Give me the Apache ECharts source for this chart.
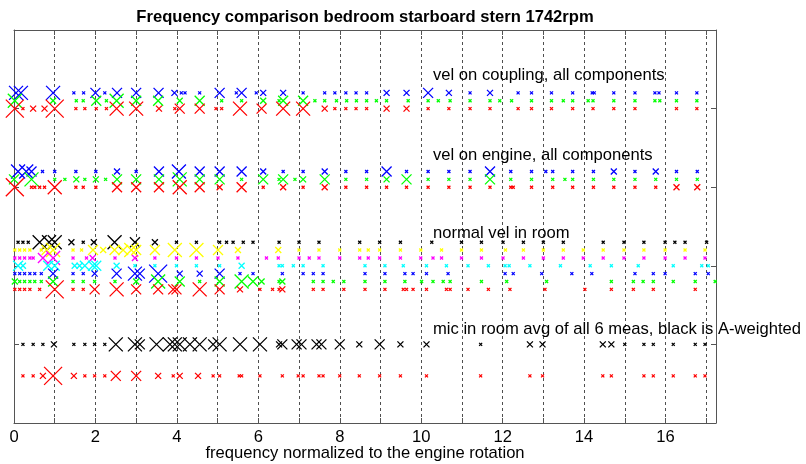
<!DOCTYPE html>
<html>
<head>
<meta charset="utf-8">
<script src="https://cdn.jsdelivr.net/npm/echarts@6/dist/echarts.min.js"></script>
<style>
html,body{margin:0;padding:0;background:#fff;}
#chart{width:806px;height:464px;}
</style>
</head>
<body>
<div id="chart"></div>
<script>
// ---- data: [frequency / engine order, amplitude class 1..5] ----
const titleText = 'Frequency comparison bedroom starboard stern 1742rpm';
const xAxisTitle = 'frequency normalized to the engine rotation';
const xTicks = [0, 2, 4, 6, 8, 10, 12, 14, 16];
const groupLabels = ['vel on coupling, all components', 'vel on engine, all components', 'normal vel in room', 'mic in room avg of all 6 meas, black is A-weighted'];
const groupLabelPos = [[10.29, 4.42], [10.29, 3.40], [10.29, 2.41], [10.29, 1.19]];

const couplingBlue = [[0.05,4],[0.17,4],[0.96,4],[1.47,1],[1.71,1],[2.0,3],[2.23,1],[2.53,3],[3.0,3],[3.55,3],[3.94,2],[4.11,1],[4.2,1],[4.56,1],[5.05,3],[5.46,1],[5.59,3],[5.95,1],[6.12,2],
  [6.61,2],[7.10,1],[7.63,1],[7.88,1],[8.15,1],[8.40,1],[8.66,1],[9.15,2],[9.64,2],[10.17,3],[10.68,2],[11.2,1],[11.69,2],[12.38,1],[12.71,1],
  [13.2,1],[13.72,1],[14.2,1],[14.25,1],[14.73,1],[15.25,1],[15.74,1],[15.84,1],[16.27,1],[16.77,1]];
const couplingGreen = [[0.02,4],[0.96,2],[1.53,1],[1.70,1],[2.02,3],[2.27,1],[2.52,4],[3.0,3],[3.54,3],[4.07,2],[4.56,3],[5.1,1],[5.59,1],[6.12,2],[6.51,1],
  [6.61,3],[7.10,3],[7.39,1],[7.63,1],[7.92,1],[8.17,1],[8.41,1],[8.66,1],[8.9,1],[9.15,1],[9.68,1],[10.17,1],[10.42,1],[10.71,1],[11.2,1],[11.69,1],[11.93,1],[12.22,1],[12.71,1],
  [13.2,1],[13.49,1],[13.72,1],[14.1,1],[14.22,1],[14.73,1],[15.25,1],[15.74,1],[15.86,1],[16.27,1],[16.77,1]];
const couplingRed = [[0.02,5],[0.22,1],[0.47,2],[0.75,2],[1.0,5],[1.52,1],[1.74,1],[2.02,1],[2.27,1],[2.52,4],[3.0,4],[3.56,2],[3.95,1],[4.07,3],[4.56,3],[4.96,1],[5.1,1],[5.55,4],[6.08,3],
  [6.61,4],[7.10,4],[7.63,2],[7.88,1],[8.15,1],[8.40,1],[8.66,1],[9.15,2],[9.64,2],[10.17,1],[10.68,1],[11.2,1],[11.69,1],[12.38,1],[12.71,1],
  [13.2,1],[13.72,1],[14.22,1],[14.73,1],[15.25,1],[16.27,1],[16.77,1]];

const engineBlue = [[0.10,4],[0.30,4],[0.43,3],[0.70,1],[1.0,1],[1.52,1],[2.01,1],[2.53,2],[3.0,1],[3.56,3],[4.05,4],[4.56,3],[5.05,3],[5.59,3],[6.12,2],
  [6.61,1],[7.10,1],[7.63,2],[8.15,1],[8.66,1],[9.15,3],[9.64,1],[10.17,1],[10.68,1],[11.2,1],[11.69,3],[12.2,1],[12.71,1],[13.06,1],[13.23,1],[13.72,1],[14.23,1],[14.73,2],[15.25,1],[15.76,2],[16.27,1],[16.78,1]];
const engineGreen = [[0.0,3],[0.43,4],[1.0,1],[1.25,1],[1.53,2],[1.74,1],[2.01,2],[2.25,1],[2.53,3],[3.0,3],[3.56,3],[4.07,4],[4.56,3],[5.05,3],[5.59,1],[6.12,3],[6.51,1],
  [6.61,3],[6.90,1],[7.10,2],[7.63,3],[8.15,1],[8.66,1],[9.15,2],[9.64,3],[10.17,1],[10.68,1],[11.2,1],[11.69,3],[12.2,1],[12.71,1],[13.23,1],[13.53,1],[13.72,1],[14.23,1],[14.73,1],[15.25,1],[15.76,1],[16.27,1],[16.78,1]];
const engineRed = [[0.02,5],[0.43,1],[0.51,1],[0.63,1],[0.75,1],[1.0,4],[1.52,1],[1.70,1],[2.01,1],[2.53,3],[3.0,3],[3.56,3],[4.07,4],[4.56,3],[5.05,2],[5.59,3],[6.12,1],
  [6.61,2],[7.10,1],[7.63,2],[8.15,1],[8.66,1],[9.15,1],[9.64,1],[10.17,1],[10.68,1],[11.2,1],[11.69,1],[12.2,1],[12.26,1],[12.71,1],[13.23,1],[13.72,1],[14.23,1],[14.73,1],[15.25,1],[15.76,1],[16.27,2],[16.78,2]];

const roomBlack = [[0.1,1],[0.22,1],[0.35,1],[0.63,4],[0.86,4],[1.0,4],[1.41,2],[1.70,1],[1.96,2],[2.47,4],[2.97,3],[3.46,2],[3.99,1],[4.48,1],[5.05,1],[5.22,1],[5.38,1],[5.63,1],[5.87,1],[6.51,1],
  [7.0,1],[7.49,1],[8.49,1],[8.98,1],[9.49,1],[10.26,1],[10.99,1],[11.48,1],[12.01,1],[12.51,1],[13.0,1],[13.49,1],[14.47,1],[14.98,1],[15.47,1],[15.99,1],[16.23,1],[16.48,1],[17.01,1]];
const roomYellow = [[0.02,1],[0.14,1],[0.26,1],[0.39,1],[0.67,1],[0.8,3],[0.96,4],[1.45,1],[1.66,1],[1.94,3],[2.19,2],[2.47,3],[2.68,3],[2.88,4],[3.0,3],[3.46,3],[3.95,4],[4.48,4],[5.01,3],[5.5,2],
  [6.49,2],[7.0,1],[7.49,1],[8.0,1],[8.49,1],[8.70,1],[8.98,1],[9.49,1],[9.99,1],[10.50,1],[10.99,1],[11.48,1],[12.07,1],[12.51,1],[13.0,1],[13.49,1],[13.98,1],[14.47,1],[14.98,1],[15.47,1],[15.99,1],[16.48,1],[16.97,1]];
const roomMagenta = [[0.02,1],[0.14,1],[0.26,1],[0.39,1],[0.47,1],[0.71,3],[0.96,4],[1.45,1],[1.78,1],[1.93,2],[2.48,1],[2.97,2],[3.46,1],[3.99,1],[4.48,1],[5.01,1],[5.50,1],[6.20,1],
  [6.49,1],[7.0,1],[7.25,1],[7.49,1],[8.0,1],[8.49,1],[8.70,1],[8.98,1],[9.49,1],[9.99,1],[10.29,1],[10.50,1],[10.99,1],[11.48,1],[12.01,1],[12.51,1],[13.0,1],[13.49,1],[13.98,1],[14.47,1],[14.98,1],[15.47,1],[15.99,1],[16.48,1],[16.97,1]];
const roomCyan = [[0.10,3],[0.22,2],[0.84,3],[1.0,3],[1.49,2],[1.61,2],[1.74,3],[1.94,3],[2.02,3],[2.52,2],[2.97,1],[3.46,1],[3.99,1],[4.48,1],[5.05,1],[5.59,2],[6.51,1],
  [6.59,1],[6.86,1],[7.10,1],[7.59,1],[8.62,1],[9.11,1],[9.56,1],[10.13,1],[10.62,1],[11.15,1],[11.65,1],[12.06,1],[12.16,1],[12.67,1],[13.42,1],[14.15,1],[14.67,1],[15.33,1],[16.19,1],[16.89,1],[17.05,1]];
const roomBlue = [[0.02,1],[0.14,1],[0.26,1],[0.39,1],[0.51,1],[0.67,1],[0.96,3],[1.45,1],[1.70,1],[1.98,2],[2.52,3],[2.97,4],[3.09,3],[3.54,5],[4.07,2],[4.56,2],[5.05,3],[5.55,1],[5.87,1],
  [6.59,1],[7.10,1],[7.35,1],[7.59,1],[8.62,1],[9.11,1],[9.60,1],[9.80,1],[10.13,1],[10.66,1],[12.06,1],[12.26,1],[12.96,1],[13.70,1],[14.19,1],[15.25,1],[15.70,1],[15.99,1],[16.73,1],[17.05,1]];
const roomGreen = [[0.02,2],[0.14,1],[0.26,1],[0.39,1],[0.51,1],[0.67,1],[0.96,3],[1.45,1],[1.70,1],[1.98,1],[2.48,1],[3.0,2],[3.54,4],[4.07,3],[4.56,1],[5.05,3],[5.59,4],[5.87,3],[6.08,2],[6.51,1],
  [6.59,2],[7.35,1],[7.59,1],[7.84,1],[8.10,1],[8.62,1],[9.11,1],[9.60,1],[10.01,1],[10.29,1],[10.54,1],[10.71,1],[11.48,1],[12.10,1],[13.08,1],[14.67,1],[15.21,1],[15.45,1],[15.70,1],[16.19,1],[16.73,1],[17.22,1]];
const roomRed = [[0.02,1],[0.14,1],[0.26,1],[0.39,1],[0.63,1],[1.0,5],[1.45,1],[1.70,1],[1.98,3],[2.52,4],[3.0,3],[3.54,3],[3.91,3],[3.99,3],[4.56,4],[5.05,3],[5.55,2],[6.04,1],[6.51,1],
  [6.35,1],[6.59,2],[7.35,1],[7.59,1],[8.10,1],[8.62,1],[9.11,1],[9.56,1],[9.64,1],[9.80,1],[10.13,1],[10.62,1],[10.71,1],[11.15,1],[11.65,1],[12.18,1],[13.04,1],[14.02,1],[14.67,1],[15.21,1],[15.70,1],[16.73,1]];

const micBlack = [[0.22,1],[0.47,1],[0.71,1],[0.98,2],[1.47,1],[1.74,1],[1.98,1],[2.23,1],[2.50,4],[2.97,4],[3.09,3],[3.5,4],[3.83,4],[3.95,4],[4.07,4],[4.32,4],[4.56,4],[4.89,3],[5.05,4],[5.55,4],[6.04,4],[6.51,2],
  [6.59,3],[6.94,3],[7.06,3],[7.43,3],[7.55,3],[8.0,3],[8.48,2],[8.98,3],[9.49,2],[10.13,2],[11.46,1],[12.67,2],[12.98,2],[14.46,2],[14.67,2],[15.0,1],[15.47,1],[15.70,1],[16.19,1],[16.73,1],[16.97,1]];
const micRed = [[0.22,1],[0.47,1],[0.71,2],[0.96,5],[1.47,2],[1.74,1],[1.98,1],[2.23,1],[2.50,3],[3.0,3],[3.54,2],[3.91,1],[4.07,2],[4.52,2],[4.89,1],[5.05,1],[5.53,1],[5.59,1],[6.04,1],
  [6.59,1],[6.98,1],[7.10,1],[7.49,1],[7.59,1],[8.0,1],[8.48,1],[8.98,1],[9.49,1],[10.13,1],[11.46,1],[12.67,1],[12.98,1],[14.46,1],[14.67,1],[15.47,1],[15.70,1],[16.19,1],[16.73,1],[16.97,1]];

// row level (y value) of each series
const rowLevels = {
  couplingBlue: 4.2, couplingGreen: 4.1, couplingRed: 4.0,
  engineBlue: 3.2, engineGreen: 3.1, engineRed: 3.0,
  roomBlack: 2.3, roomYellow: 2.2, roomMagenta: 2.1, roomCyan: 2.0, roomBlue: 1.9, roomGreen: 1.8, roomRed: 1.7,
  micBlack: 1.0, micRed: 0.6
};

// ---- build ----
const seriesList = [
  ['couplingBlue', couplingBlue, '#0000ff'], ['couplingGreen', couplingGreen, '#00ff00'], ['couplingRed', couplingRed, '#ff0000'],
  ['engineBlue', engineBlue, '#0000ff'], ['engineGreen', engineGreen, '#00ff00'], ['engineRed', engineRed, '#ff0000'],
  ['roomBlack', roomBlack, '#000000'], ['roomYellow', roomYellow, '#ffff00'], ['roomMagenta', roomMagenta, '#ff00ff'],
  ['roomCyan', roomCyan, '#00ffff'], ['roomBlue', roomBlue, '#0000ff'], ['roomGreen', roomGreen, '#00ff00'], ['roomRed', roomRed, '#ff0000'],
  ['micBlack', micBlack, '#000000'], ['micRed', micRed, '#ff0000']
];
const sizeOf = [0, 3, 6, 10, 14, 18];
const FONT = 'Liberation Sans, Arial, Helvetica, sans-serif';
const FS = 16.6;
const XMAX = 17.24;

const series = seriesList.map(([name, data, color]) => ({
  type: 'scatter',
  name: name,
  silent: true,
  clip: false,
  symbol: 'path://M0,0L10,10M10,0L0,10',
  data: data.map(([f, a]) => ({ value: [f, rowLevels[name]], symbolSize: sizeOf[a] })),
  itemStyle: { color: 'rgba(0,0,0,0)', borderColor: color, borderWidth: 1.3, opacity: 1 }
}));

series.push({
  type: 'scatter',
  silent: true,
  clip: false,
  symbolSize: 0,
  data: groupLabels.map((t, i) => ({ name: t, value: groupLabelPos[i] })),
  label: {
    show: true, position: 'right', distance: 0, formatter: '{b}',
    color: '#000', fontSize: FS, fontFamily: FONT, textBorderWidth: 0, opacity: 1
  }
});

const chart = echarts.init(document.getElementById('chart'), null, { renderer: 'canvas' });
const axisLineStyle = { color: '#555', width: 1 };
chart.setOption({
  animation: false,
  backgroundColor: '#fff',
  grid: { left: 14, right: 90, top: 30, bottom: 41, containLabel: false, outerBoundsMode: 'none' },
  graphic: [{
    type: 'text', x: 365, y: 17,
    style: { text: titleText, textAlign: 'center', textVerticalAlign: 'middle', font: 'bold ' + FS + 'px ' + FONT, fill: '#000' }
  }],
  xAxis: [{
    type: 'value', min: 0, max: XMAX, interval: 1, position: 'bottom',
    axisLine: { show: true, lineStyle: axisLineStyle, onZero: false },
    axisTick: { show: true, inside: true, length: 5, lineStyle: axisLineStyle },
    axisLabel: {
      show: true, margin: 6, color: '#000', fontSize: FS, fontFamily: FONT,
      showMaxLabel: false,
      formatter: v => (xTicks.indexOf(v) >= 0 ? String(v) : '')
    },
    splitLine: { show: true, lineStyle: { color: '#222', width: 0.8, type: [3, 3] } },
    name: xAxisTitle, nameLocation: 'middle', nameGap: 22, nameMoveOverlap: false,
    nameTextStyle: { color: '#000', fontSize: FS, fontFamily: FONT }
  }, {
    type: 'value', min: 0, max: XMAX, interval: 1, position: 'top',
    axisLine: { show: true, lineStyle: axisLineStyle, onZero: false },
    axisTick: { show: true, inside: true, length: 5, lineStyle: axisLineStyle },
    axisLabel: { show: false }, splitLine: { show: false }
  }],
  yAxis: [{
    type: 'value', min: 0, max: 5, interval: 1, position: 'left',
    axisLine: { show: true, lineStyle: axisLineStyle, onZero: false },
    axisTick: { show: true, inside: true, length: 5, lineStyle: axisLineStyle },
    axisLabel: { show: false }, splitLine: { show: false }
  }, {
    type: 'value', min: 0, max: 5, interval: 1, position: 'right',
    axisLine: { show: true, lineStyle: axisLineStyle, onZero: false },
    axisTick: { show: true, inside: true, length: 5, lineStyle: axisLineStyle },
    axisLabel: { show: false }, splitLine: { show: false }
  }],
  series: series
});
</script>
</body>
</html>
